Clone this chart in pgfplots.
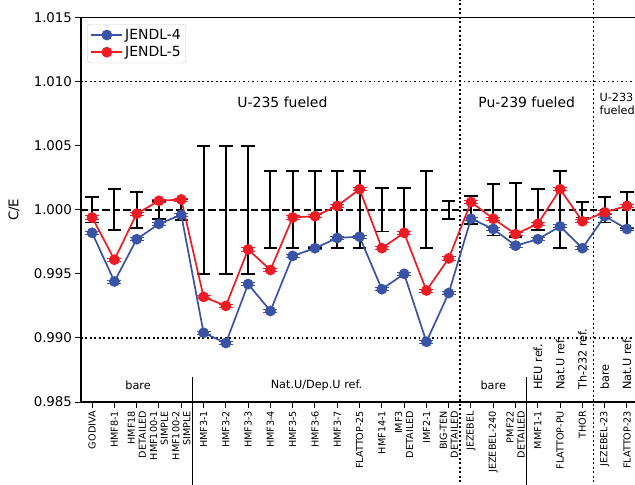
\documentclass[border=0pt]{standalone}
\usepackage{fontspec}
\setmainfont{DejaVu Sans}
\usepackage{pgfplots}
\usepackage{pgfplotstable}
\pgfplotsset{compat=1.18}
\definecolor{jblue}{RGB}{58,83,164}
\definecolor{jred}{RGB}{237,28,36}

\pgfplotstableread{
x j4 j5 unc st
0 0.9982 0.9994 0.0010 0.00012
1 0.9944 0.9961 0.0016 0.00012
2 0.9977 0.9997 0.0014 0.00012
3 0.9989 1.0007 0.0007 0.00012
4 0.9996 1.0008 0.0008 0.00012
5 0.9904 0.9932 0.0050 0.00012
6 0.9896 0.9925 0.0050 0.00012
7 0.9942 0.9969 0.0050 0.00012
8 0.9921 0.9953 0.0030 0.00012
9 0.9964 0.9994 0.0030 0.00012
10 0.9970 0.9995 0.0030 0.00012
11 0.9978 1.0003 0.0030 0.00012
12 0.9979 1.0016 0.0030 0.00012
13 0.9938 0.9970 0.0017 0.00012
14 0.9950 0.9982 0.0017 0.00012
15 0.9897 0.9937 0.0030 0.00012
16 0.9935 0.9962 0.0007 0.00012
17 0.9993 1.0006 0.0011 0.00012
18 0.9985 0.9993 0.0020 0.00012
19 0.9972 0.9981 0.0021 0.00012
20 0.9977 0.9989 0.0016 0.00012
21 0.9987 1.0016 0.0030 0.00012
22 0.9970 0.9991 0.0006 0.00012
23 0.9995 0.9998 0.0010 0.00012
24 0.9985 1.0003 0.0014 0.00012
}\data

\tikzset{
  dotln/.style={line width=1.7bp, dash pattern=on 1.7bp off 2.8bp, black},
  grp/.style={font=\fontsize{11.3}{12.8}\selectfont, inner sep=0pt},
}
\pgfplotsset{
  expbar/.style={/pgfplots/error bars/draw error bar/.code 2 args={%
    \draw[black, line width=1.9bp, solid] ##1 -- ##2;
    \draw[black, line width=1.7bp, solid] ##2 ++(-6.7bp,0) -- ++(13.4bp,0);}},
  bluebar/.style={/pgfplots/error bars/draw error bar/.code 2 args={%
    \draw[jblue, line width=0.9bp, solid] ##1 -- ##2;
    \draw[jblue, line width=0.9bp, solid] ##2 ++(-7bp,0) -- ++(14bp,0);}},
  redbar/.style={/pgfplots/error bars/draw error bar/.code 2 args={%
    \draw[jred, line width=0.9bp, solid] ##1 -- ##2;
    \draw[jred, line width=0.9bp, solid] ##2 ++(-7bp,0) -- ++(14bp,0);}},
}

\begin{document}
\begin{tikzpicture}[font=\fontsize{13.4}{16}\selectfont]
\begin{axis}[name=ax, scale only axis, width=554bp, height=384.5bp,
  xmin=-0.5, xmax=24.36, ymin=0.985, ymax=1.015,
  axis x line=box, axis y line=left,
  axis line style={-, line width=1.3bp, black},
  y axis line style={line width=2bp},
  clip=false,
  xtick={0,...,24},
  xticklabels={GODIVA, HMF8-1, {HMF18\\DETAILED}, {HMF100-1\\SIMPLE}, {HMF100-2\\SIMPLE},
    HMF3-1, HMF3-2, HMF3-3, HMF3-4, HMF3-5, HMF3-6, HMF3-7, FLATTOP-25, HMF14-1,
    {IMF3\\DETAILED}, IMF2-1, {BIG-TEN\\DETAILED}, JEZEBEL, JEZEBEL-240, {PMF22\\DETAILED},
    MMF1-1, FLATTOP-PU, THOR, JEZEBEL-23, FLATTOP-23},
  xticklabel style={rotate=90, anchor=east, align=right, font=\fontsize{9.7}{11}\selectfont},
  ytick={0.985,0.990,0.995,1.000,1.005,1.010,1.015},
  /pgf/number format/assume math mode=true,
  yticklabel style={/pgf/number format/fixed, /pgf/number format/fixed zerofill, /pgf/number format/precision=3},
  tick align=outside, major tick length=5.5bp,
  tick style={line width=1bp, black},
  xtick pos=left, ytick pos=left,
  ylabel={C/E},
  ylabel style={at={(axis description cs:-0.121,0.5)}, anchor=center, font=\fontsize{13.4}{16}\selectfont},
  legend style={at={(axis description cs:0.0114,0.983)}, anchor=north west, draw=black!20, rounded corners=3bp,
    fill=white, font=\fontsize{14}{16.8}\selectfont, inner xsep=3bp, inner ysep=3bp, row sep=1.5bp},
  legend cell align=left,
  legend image code/.code={\draw[mark repeat=2, mark phase=2, #1] plot coordinates {(0bp,0bp) (15.5bp,0bp) (31bp,0bp)};},
]
% reference lines
\draw[dotln] (axis cs:-0.5,1.010) -- (axis cs:24.36,1.010);
\draw[dotln] (axis cs:-0.5,0.990) -- (axis cs:24.36,0.990);
\draw[line width=1.9bp, dash pattern=on 7.4bp off 3.2bp, black] (axis cs:-0.5,1.000) -- (axis cs:24.36,1.000);
\draw[dotln] (axis cs:16.5,0.9784) -- (axis cs:16.5,1.0166);
\draw[dotln] (axis cs:22.5,0.9784) -- (axis cs:22.5,1.0166);
\draw[line width=1.2bp, black] (axis cs:4.5,0.98698) -- (axis cs:4.5,0.9784);
\draw[line width=1.2bp, black] (axis cs:19.5,0.98698) -- (axis cs:19.5,0.9784);

% annotations
\node[font=\fontsize{14}{16.8}\selectfont] at (axis cs:8.54,1.00839) {U-235 fueled};
\node[font=\fontsize{14}{16.8}\selectfont] at (axis cs:19.5,1.00839) {Pu-239 fueled};
\node[anchor=west, align=left, font=\fontsize{11.3}{12.6}\selectfont, inner sep=0pt] at (axis cs:22.76,1.00825) {U-233\\fueled};
\node[grp] at (axis cs:2.06,0.98633) {bare};
\node[grp] at (axis cs:10.07,0.98633) {Nat.U/Dep.U ref.};
\node[grp] at (axis cs:18,0.98633) {bare};
\node[grp, rotate=90, anchor=west] at (axis cs:20,0.98594) {HEU ref.};
\node[grp, rotate=90, anchor=west] at (axis cs:21,0.98594) {Nat.U ref.};
\node[grp, rotate=90, anchor=west] at (axis cs:22,0.98594) {Th-232 ref.};
\node[grp, rotate=90, anchor=west] at (axis cs:23,0.98594) {bare};
\node[grp, rotate=90, anchor=west] at (axis cs:24,0.98594) {Nat.U ref.};

% experimental uncertainty
\addplot[forget plot, draw=none, mark=none, expbar,
  error bars/.cd, y dir=both, y explicit]
  table[x=x, y expr=1.0, y error=unc] {\data};

% JENDL-4
\addplot[jblue, line width=1.7bp, mark=*, mark size=4.5bp, mark options={solid, fill=jblue, draw=jblue}, bluebar,
  error bars/.cd, y dir=both, y explicit]
  table[x=x, y=j4, y error=st] {\data};
\addlegendentry{JENDL-4}

% JENDL-5
\addplot[jred, line width=1.7bp, mark=*, mark size=4.5bp, mark options={solid, fill=jred, draw=jred}, redbar,
  error bars/.cd, y dir=both, y explicit]
  table[x=x, y=j5, y error=st] {\data};
\addlegendentry{JENDL-5}
\end{axis}
\pgfresetboundingbox
\useasboundingbox ([shift={(-81bp,-83bp)}]ax.south west) rectangle ([shift={(0bp,17.5bp)}]ax.north east);
\end{tikzpicture}
\end{document}
